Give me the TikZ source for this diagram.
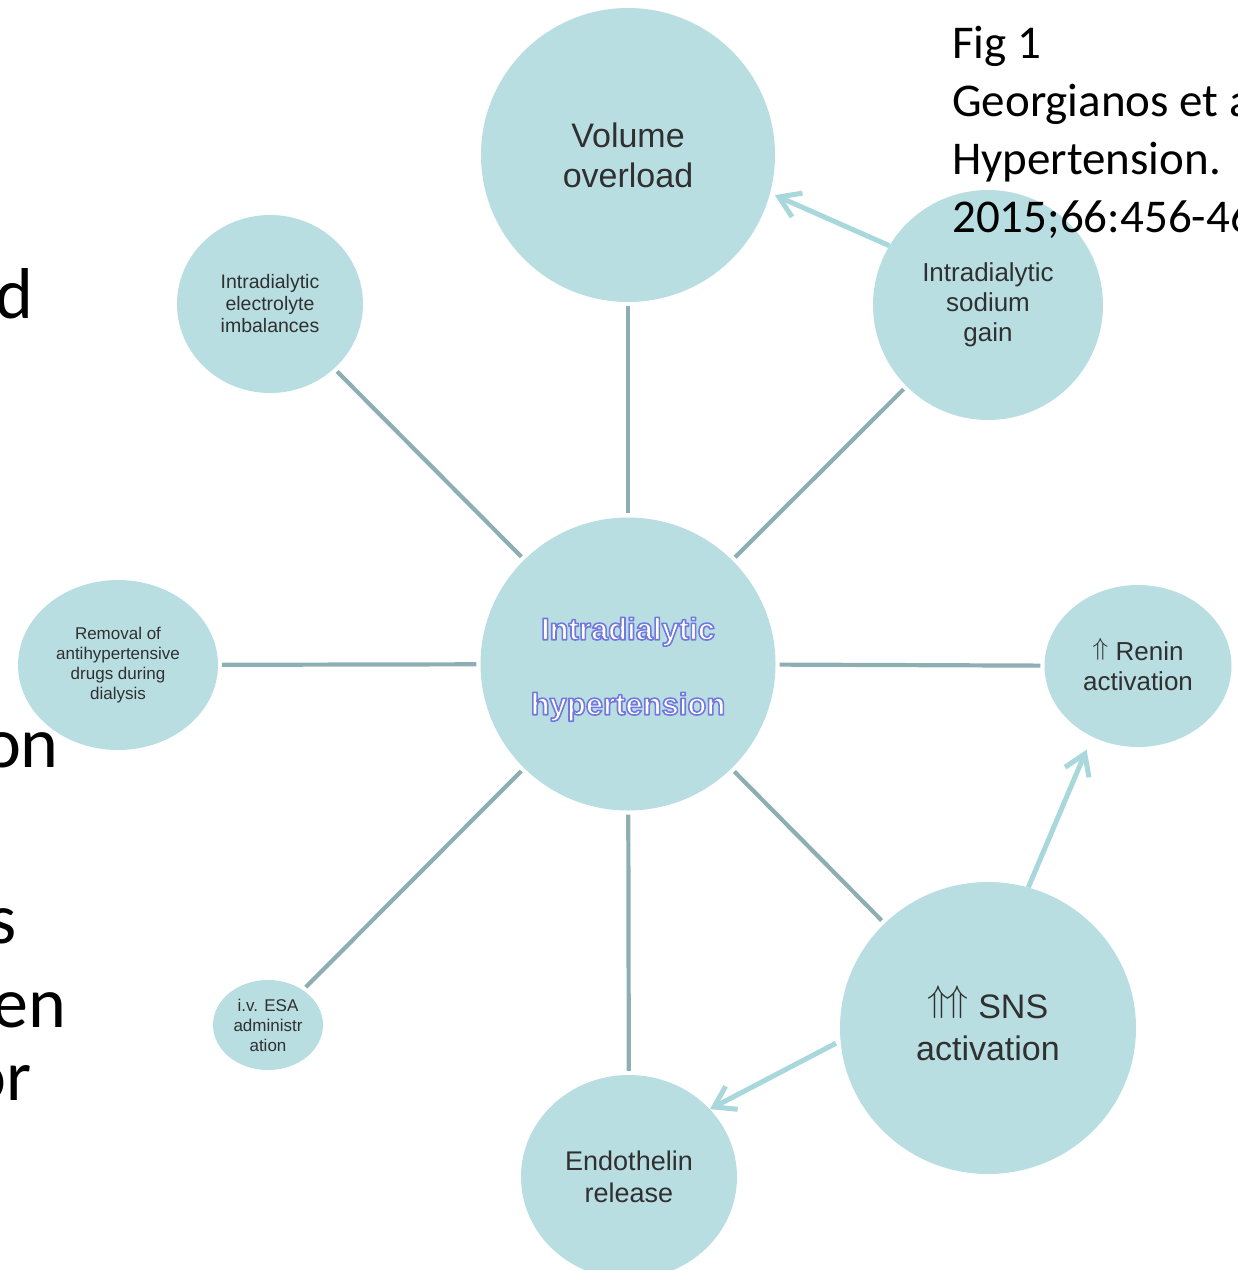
\documentclass[tikz,border=0pt]{standalone}
\usepackage{fontspec}
\usepackage{graphicx}
\usetikzlibrary{shapes.geometric,arrows.meta}
\newfontfamily\arialf{Liberation Sans}
\newfontfamily\calib{Carlito}
\definecolor{cfill}{HTML}{B8DEE2}
\definecolor{cline}{HTML}{8DAFB4}
\definecolor{carrow}{HTML}{A8D7DC}
\definecolor{ctext}{HTML}{303030}
\newcommand\fsz[2]{\fontsize{#1}{#2}\selectfont}
% white text with a blue outline (fill + stroke text rendering mode)
\newcommand\outl[1]{\special{pdf:literal direct 0.45 0.47 0.87 RG 1.6 w 1 j 2 Tr}#1\special{pdf:literal direct 0 Tr}}
% up double arrow: width, total height, raise, declared height
\newcommand\uar[4]{\raisebox{#3}[#4][0pt]{\resizebox*{#1}{#2}{$\Uparrow$}}}
\begin{document}
\begin{tikzpicture}[x=1pt,y=-1pt,
  bub/.style={ellipse, fill=cfill, draw=none, inner sep=0pt, align=center, text=ctext},
  spoke/.style={draw=cline, line width=4.2pt, shorten <=4pt, shorten >=4pt},
  push/.style={draw=carrow, line width=5pt, -{Straight Barb[length=20pt,width=26pt]}},
  cite/.style={font=\calib\fsz{47}{58}, anchor=base west, inner sep=0pt, text=black},
  side/.style={font=\calib\fsz{72}{80}, anchor=base east, inner sep=0pt, text=black}]
\useasboundingbox (0,0) rectangle (1238,1270);
\clip (0,0) rectangle (1238,1270);

% bubbles
\node[bub, minimum width=294pt, minimum height=294pt, font={\arialf\fsz{34}{40}}] (vol) at (628,155) {Volume\\overload};
\node[bub, minimum width=186pt, minimum height=178pt, font={\arialf\fsz{19.5}{22}}] (ele) at (270,304) {Intradialytic\\electrolyte\\imbalances};
\node[bub, minimum width=230pt, minimum height=230pt, font={\arialf\fsz{26}{30}}] (sod) at (988,305) {Intradialytic\\sodium\\gain};
\node[bub, minimum width=200pt, minimum height=170pt, font={\arialf\fsz{17}{20}}] (rem) at (118,665) {Removal of\\antihypertensive\\drugs during\\dialysis};
\node[bub, minimum width=295pt, minimum height=293pt, text=white, font={\arialf\bfseries\fsz{31}{75}}] (hyp) at (628,664) {\rule{0pt}{33pt}\outl{Intradialytic}\\\outl{hypertension}};
\node[bub, minimum width=187pt, minimum height=162pt, font={\arialf\fsz{26}{30}}] (ren) at (1138,666) {\uar{16pt}{22pt}{4.8pt}{18pt} Renin\\activation};
\node[bub, minimum width=296pt, minimum height=292pt, font={\arialf\fsz{34}{42}}] (sns) at (988,1028) {\uar{22pt}{33pt}{7.2pt}{24pt}\kern-3pt\uar{22pt}{33pt}{7.2pt}{24pt} SNS\\activation};
\node[bub, minimum width=216pt, minimum height=204pt, font={\arialf\fsz{27}{32}}] (end) at (629,1177) {Endothelin\\release};
\node[bub, minimum width=110pt, minimum height=90pt, font={\arialf\fsz{17}{20}}] (esa) at (268,1025) {i.v. ESA\\administr\\ation};

% spokes
\draw[spoke] (hyp) -- (vol);
\draw[spoke] (hyp) -- (ele);
\draw[spoke] (hyp) -- (sod);
\draw[spoke] (hyp) -- (rem);
\draw[spoke] (hyp) -- (ren);
\draw[spoke] (hyp) -- (esa);
\draw[spoke] (hyp) -- (end);
\draw[spoke] (hyp) -- (sns);

% arrows
\draw[push, shorten >=5pt] (sod.149) -- (vol.-15);
\draw[push, shorten >=14pt] (sns.74) -- (ren.237);
\draw[push, shorten <=5pt] (sns.185) -- (end.40);

% citation text
\node[cite] (fig) at (952,58) {Fig 1};
\node[cite] (au) at (952,116) {Georgianos et al.};
\node[cite] (jr) at (952,174) {Hypertension.};
\node[cite] (yr) at (952,232) {2015;66:456-463};

% clipped slide text on the left
\node[side] (l1) at (34,318) {d};
\node[side] (l2) at (59,767) {on};
\node[side] (l3) at (17,943) {s};
\node[side] (l4) at (66,1027) {en};
\node[side] (l5) at (32,1100) {or};
\end{tikzpicture}
\end{document}
